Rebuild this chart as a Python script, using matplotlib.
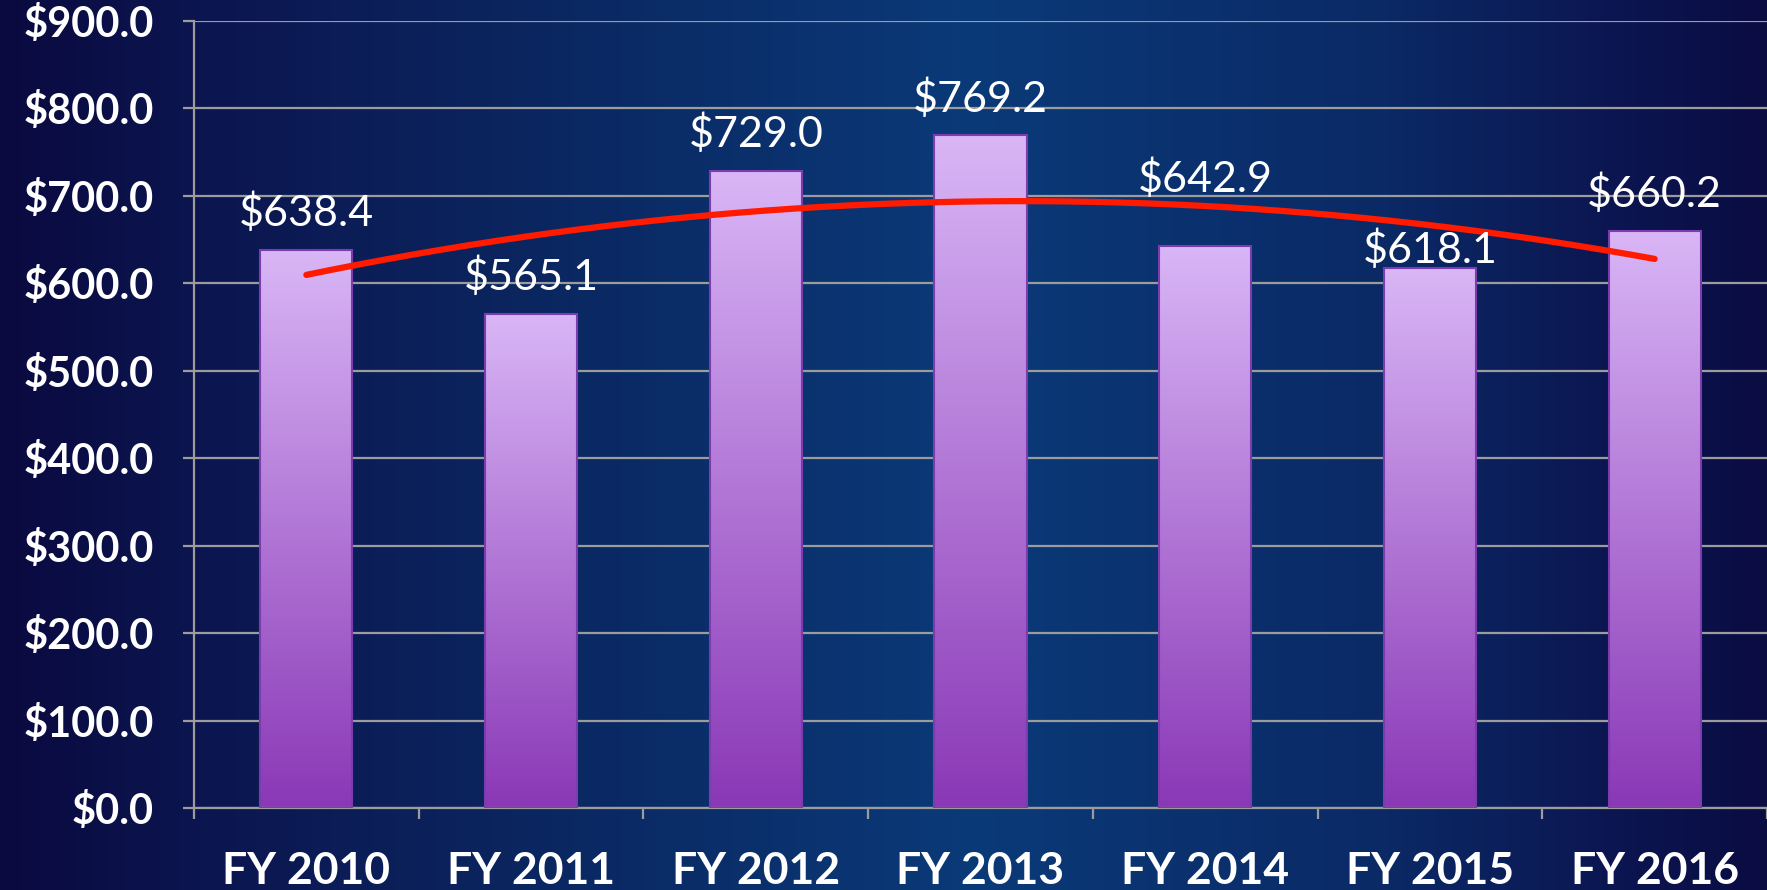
import numpy as np
import matplotlib
matplotlib.use('Agg')
import matplotlib.pyplot as plt
from matplotlib.colors import LinearSegmentedColormap

years = ['FY 2010', 'FY 2011', 'FY 2012', 'FY 2013', 'FY 2014', 'FY 2015', 'FY 2016']
amounts = [638.4, 565.1, 729.0, 769.2, 642.9, 618.1, 660.2]
y_ticks = [0, 100, 200, 300, 400, 500, 600, 700, 800, 900]

plt.rcParams['font.family'] = ['Lato', 'DejaVu Sans']

fig = plt.figure(figsize=(17.67, 8.90), dpi=100)

# background: dark navy edges, lighter blue in the middle
bg = fig.add_axes([0, 0, 1, 1], zorder=-10)
bg_cmap = LinearSegmentedColormap.from_list('bg', [
    (0.0, '#0a0a40'), (0.12, '#0c1650'), (0.3, '#0b2660'),
    (0.55, '#0a3a78'), (0.78, '#0a2a66'), (0.92, '#0c1550'), (1.0, '#0a0c42')])
bg.imshow(np.linspace(0, 1, 512).reshape(1, -1), cmap=bg_cmap, aspect='auto',
          extent=[0, 1, 0, 1])
bg.set_axis_off()

ax = fig.add_axes([194 / 1767, 82 / 890, 1 - 194 / 1767, 787 / 890])
ax.patch.set_alpha(0)

x = np.arange(len(years))
bars = ax.bar(x, amounts, width=0.41, color='none', edgecolor='#7a3cae',
              linewidth=1.5, zorder=3)

# vertical gradient inside each bar
bar_cmap = LinearSegmentedColormap.from_list('bar', ['#8a38b6', '#d9b6f6'])
grad = np.linspace(1, 0, 256).reshape(-1, 1)
for b in bars:
    x0, w, h = b.get_x(), b.get_width(), b.get_height()
    im = ax.imshow(grad, cmap=bar_cmap, aspect='auto', origin='upper',
                   extent=[x0, x0 + w, 0, h], zorder=2.5)
    im.set_clip_path(b)

# polynomial trend line (order 2)
coef = np.polyfit(x, amounts, 2)
xs = np.linspace(x[0], x[-1], 200)
ax.plot(xs, np.polyval(coef, xs), color='#ff1a00', lw=4.5,
        solid_capstyle='round', zorder=4)

label_shift = [0, 0, 0, 0, 22, -14, 0]
for xi, v, s in zip(x, amounts, label_shift):
    ax.annotate(f'${v:.1f}', (xi, v), xytext=(0, 17 + s), textcoords='offset points',
                ha='center', va='baseline', color='white', fontsize=31, zorder=5)

ax.set_xlim(-0.5, len(years) - 0.5)
ax.set_ylim(0, 900)
ax.set_yticks(y_ticks)
ax.set_yticklabels([f'${t:.1f}' for t in y_ticks])
ax.set_xticks(np.arange(len(years) + 1) - 0.5)
ax.set_xticklabels([])
ax.set_xticks(x, minor=True)
ax.set_xticklabels(years, minor=True)

grey = '#9c9c9c'
ax.yaxis.grid(True, color=grey, lw=1.6)
ax.set_axisbelow(True)
for side in ['top', 'right']:
    ax.spines[side].set_visible(False)
for side in ['left', 'bottom']:
    ax.spines[side].set_color(grey)
    ax.spines[side].set_linewidth(1.6)

ax.tick_params(axis='y', which='major', length=8, width=1.6, color=grey,
               labelcolor='white', labelsize=30, pad=21)
ax.tick_params(axis='x', which='major', length=8, width=1.6, color=grey)
ax.tick_params(axis='x', which='minor', length=0, labelcolor='white',
               labelsize=32, pad=31)
for lbl in ax.get_yticklabels() + ax.get_xticklabels(minor=True):
    lbl.set_fontweight('bold')

fig.savefig('out.png', dpi=100)
